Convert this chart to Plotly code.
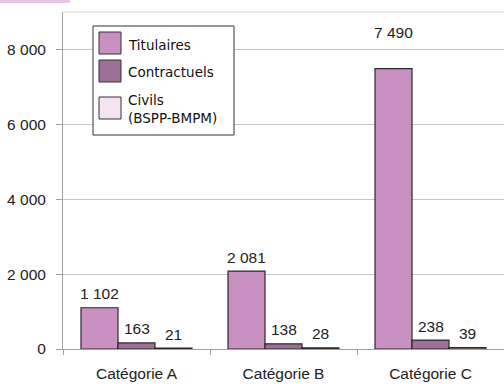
import plotly.graph_objects as go

categories = ["Catégorie A", "Catégorie B", "Catégorie C"]
series_names = ["Titulaires", "Contractuels", "Civils\n(BSPP-BMPM)"]
titulaires = [1102, 2081, 7490]
contractuels = [163, 138, 238]
civils = [21, 28, 39]
y_tick_vals = [0, 2000, 4000, 6000, 8000]

colors = ["#C990C2", "#9D7096", "#F4E3F0"]
series = [titulaires, contractuels, civils]
AR = "Liberation Sans"

fig = go.Figure()
for name, vals, col in zip(series_names, series, colors):
    fig.add_trace(go.Bar(
        x=categories, y=vals, name=name.replace("\n", " "),
        marker=dict(color=col, line=dict(color="#2a2a2a", width=1.2)),
        showlegend=False, hoverinfo="skip",
    ))

fmt = lambda v: f"{v:,}".replace(",", " ")
# data labels
offsets = [-1, 0, 1]
for si, vals in enumerate(series):
    for ci, v in enumerate(vals):
        ys = 36 if v > 7000 else 14
        fig.add_annotation(
            x=ci, y=v, xref="x", yref="y", text=fmt(v), showarrow=False,
            xshift=offsets[si] * 36.7, yshift=ys, yanchor="middle",
            font=dict(family=AR, size=15.5, color="#222"),
        )

L, R, T, B = 63, 0, 12, 42
W, H = 504, 391
pw, ph = W - L - R, H - T - B
px = lambda x: (x - L) / pw
py = lambda y: (H - B - y) / ph

shapes = []
# legend box
shapes.append(dict(type="rect", xref="paper", yref="paper",
                   x0=px(93), x1=px(234), y0=py(135), y1=py(26),
                   fillcolor="white", line=dict(color="#333", width=1)))
sw_y = [(32, 54), (60, 82), (97, 119)]
txt_y = [45, 72, 109]
for (y0, y1), col, name, ty in zip(sw_y, colors, series_names, txt_y):
    shapes.append(dict(type="rect", xref="paper", yref="paper",
                       x0=px(99), x1=px(121), y0=py(y1), y1=py(y0),
                       fillcolor=col, line=dict(color="#333", width=1)))
    fig.add_annotation(xref="paper", yref="paper", x=px(126), y=py(ty),
                       xanchor="left", yanchor="middle", align="left",
                       text=name.replace("\n", "<br>"), showarrow=False,
                       font=dict(family="DejaVu Sans", size=13.5, color="#111"))
# top border
shapes.append(dict(type="line", xref="paper", yref="paper", x0=0, x1=1, y0=1, y1=1,
                   line=dict(color="#d8d8d8", width=1)))
# top-left decoration
shapes.append(dict(type="rect", xref="paper", yref="paper",
                   x0=px(0), x1=px(70), y0=py(3), y1=py(-2),
                   fillcolor="#E6C6E2", line=dict(width=0)))

fig.update_layout(
    width=W, height=H, margin=dict(l=L, r=R, t=T, b=B),
    paper_bgcolor="white", plot_bgcolor="white",
    barmode="group", bargap=0.245, bargroupgap=0,
    shapes=shapes, hovermode=False,
    font=dict(family=AR, size=15.5, color="#222"),
)
fig.update_yaxes(range=[0, 9000], tickvals=y_tick_vals,
                 ticktext=[fmt(v) for v in y_tick_vals],
                 showgrid=True, gridcolor="#c4c4c4", gridwidth=1,
                 showline=True, linecolor="#a0a0a0", linewidth=1,
                 ticks="outside", ticklen=6, tickcolor="#a0a0a0",
                 ticklabelstandoff=7, zeroline=False,
                 tickfont=dict(family=AR, size=15.5, color="#222"))
fig.update_xaxes(showline=True, linecolor="#a0a0a0", linewidth=1,
                 ticks="outside", tickson="boundaries", ticklen=5, tickcolor="#a0a0a0",
                 ticklabelstandoff=10, range=[-0.5, 2.5],
                 tickfont=dict(family=AR, size=15.5, color="#222"))

fig.write_html("out.html", config={"displayModeBar": False, "staticPlot": True},
               post_script="document.body.style.margin='0';")
